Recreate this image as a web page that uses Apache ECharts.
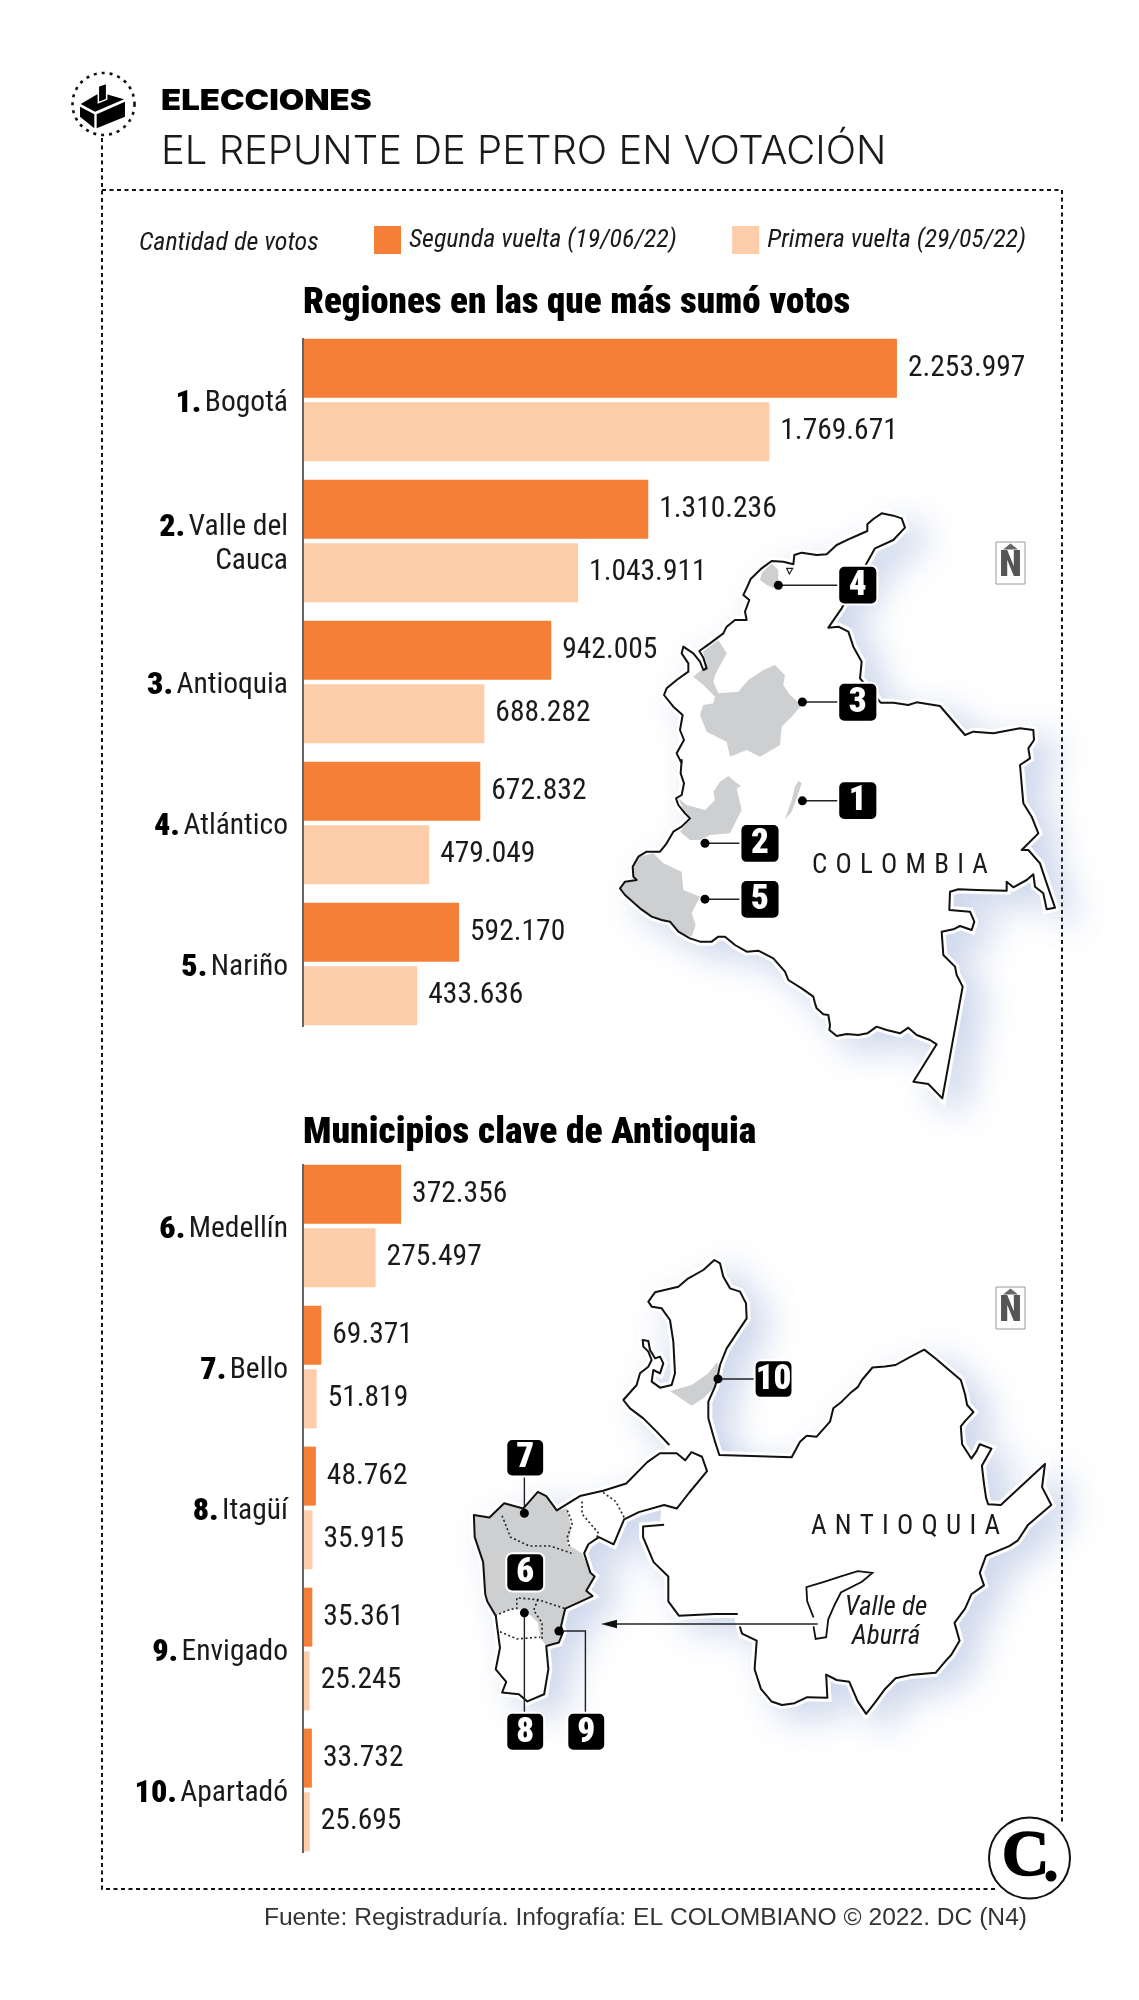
<!DOCTYPE html>
<html><head><meta charset="utf-8">
<style>html,body{margin:0;padding:0;background:#fff}#c{width:1139px;height:2000px}</style>
<script src="https://cdn.jsdelivr.net/npm/echarts@6/dist/echarts.min.js"></script>
</head><body><div id="c"></div>
<script>
const regionRanks = ['1.', '2.', '3.', '4.', '5.'];
const regionNames = ['Bogotá', 'Valle del\nCauca', 'Antioquia', 'Atlántico', 'Nariño'];
const regionSecond = [2253997, 1310236, 942005, 672832, 592170];
const regionFirst = [1769671, 1043911, 688282, 479049, 433636];
const townRanks = ['6.', '7.', '8.', '9.', '10.'];
const townNames = ['Medellín', 'Bello', 'Itagüí', 'Envigado', 'Apartadó'];
const townSecond = [372356, 69371, 48762, 35361, 33732];
const townFirst = [275497, 51819, 35915, 25245, 25695];
const secondName = 'Segunda vuelta (19/06/22)';
const firstName = 'Primera vuelta (29/05/22)';

const ORANGE = '#F57F36', PEACH = '#FDCCA9', GRAY = '#CDCFD1', INK = '#1a1a1a';
const NARROW = '"Roboto Condensed"';
const chart = echarts.init(document.getElementById('c'), null, {renderer: 'canvas'});

function fmt(v) { return String(v).replace(/\B(?=(\d{3})+$)/g, '.'); }
function axisLabels(names, ranks) {
  return names.map((n, i) => {
    const parts = n.split('\n');
    return '{r|' + ranks[i] + '} ' + parts.map(p => '{t|' + p + '}').join('\n');
  });
}
function barSeries(name, data, color, idx) {
  return {
    type: 'bar', name, data, xAxisIndex: idx, yAxisIndex: idx,
    barWidth: 59, barGap: '8%',
    itemStyle: {color},
    animation: false,
    label: {show: true, position: 'right', distance: 11, color: INK,
      fontFamily: NARROW, fontSize: 29.5, formatter: p => fmt(p.value)}
  };
}
function yAxis(idx, labels) {
  return {
    type: 'category', gridIndex: idx, inverse: true, data: labels,
    axisLine: {show: false}, axisTick: {show: false},
    axisLabel: {margin: 15, align: 'right', color: INK, lineHeight: 34, padding: [7, 0, 0, 0],
      rich: {
        r: {fontFamily: NARROW, fontWeight: 900, fontSize: 32, color: '#000', lineHeight: 34},
        t: {fontFamily: NARROW, fontSize: 29.5, color: INK, lineHeight: 34}
      }}
  };
}
function xAxis(idx) {
  return {type: 'value', gridIndex: idx, min: 0, max: 2400000, show: false};
}

/* ---------- decorative maps ---------- */
const gfx = [];
const id = p => p;
const antT = p => [420 + p[0] / 2.376, 1230 + p[1] / 2.8];
const pairs = (a, t) => { const o = []; for (let i = 0; i < a.length; i += 2) o.push(t([a[i], a[i + 1]])); return o; };
const crop = (x0, y0, a) => { const o = []; for (let i = 0; i < a.length; i += 2) o.push(x0 + a[i] / 3, y0 + a[i + 1] / 3); return o; };
function poly(a, t, style, z) { gfx.push({type: 'polygon', silent: true, z: z || 10, shape: {points: pairs(a, t)}, style}); }
function pline(a, t, style, z) { gfx.push({type: 'polyline', silent: true, z: z || 12, shape: {points: pairs(a, t)}, style: Object.assign({fill: null}, style)}); }
function shadowed(a, t) {
  poly(a, t, {fill: '#fff', stroke: '#fff', lineWidth: 6, shadowColor: 'rgba(140,165,212,.42)', shadowBlur: 34, shadowOffsetX: 18, shadowOffsetY: 12}, 5);
  poly(a, t, {fill: '#fff', stroke: '#fff', lineWidth: 8}, 6);
}
function dot(p, t) { const q = t(p); gfx.push({type: 'circle', silent: true, z: 20, shape: {cx: q[0], cy: q[1], r: 4.5}, style: {fill: '#000'}}); }
function line(a, t) { pline(a, t, {stroke: '#222', lineWidth: 1.4}, 19); }
function box(x0, y0, x1, y1, txt, t) {
  const a = t([x0, y0]), b = t([x1, y1]);
  gfx.push({type: 'rect', silent: true, z: 22, shape: {x: a[0], y: a[1], width: b[0] - a[0], height: b[1] - a[1], r: 6}, style: {fill: '#000', stroke: '#fff', lineWidth: 2}});
  gfx.push({type: 'text', silent: true, z: 23, style: {text: txt, x: (a[0] + b[0]) / 2, y: (a[1] + b[1]) / 2 + 1, textAlign: 'center', textVerticalAlign: 'middle', fill: '#fff', font: '900 35px ' + NARROW}});
}
function north(x, y) {
  gfx.push({type: 'rect', silent: true, z: 15, shape: {x: x, y: y, width: 29, height: 42}, style: {fill: '#fff', stroke: '#9a9a9a', lineWidth: 1}});
  gfx.push({type: 'polygon', silent: true, z: 16, shape: {points: [[x + 7, y + 7.5], [x + 14.5, y + 1.5], [x + 22, y + 7.5]]}, style: {fill: '#666'}});
  gfx.push({type: 'text', silent: true, z: 16, style: {text: 'N', x: x + 14.5, y: y + 25, textAlign: 'center', textVerticalAlign: 'middle', fill: '#555', font: '900 37px ' + NARROW}});
}

const colombiaOutline = [].concat(
  crop(660, 505, [735,68,725,40,700,32,665,25,640,42,622,58,622,78,595,90,565,103,530,120,500,148,470,150,425,143,403,150,400,178,370,170,335,168,305,190,272,222,262,245,250,270,268,285,255,320,260,345,225,345,200,365,190,385,150,415,118,438,130,458,140,490,130,495,120,470,100,445,70,425,65,445,85,475,85,500,50,525,20,550,12,570,40,605,68,630,60,675,72,705,50,745,65,775]),
  crop(610, 760, [215,0,212,40,222,70,215,105,198,115,205,135,225,160,240,175,215,200,190,215,170,250,150,275,110,275,85,290,68,320,70,350,80,360,45,365,30,385,45,405,90,445,125,470,155,480,180,485,205,515,240,535,270,545,305,545,325,530,345,530,375,555,410,575,445,572,490,595,525,635,535,660,575,685,610,710]),
  crop(780, 880, [105,370,110,385,130,403,145,405,150,435,148,450,170,468,200,462,235,465,262,460,290,440,320,450,360,460,385,443,410,465,450,480,470,493,400,605,445,612,487,655,548,320,530,285,525,260,490,225,485,155,520,148,540,138,575,150,583,125,570,95,508,90,510,35]),
  crop(860, 680, [295,628,350,630,440,632,440,605,460,622,500,600,520,583,525,620,550,640,560,688,585,683,560,610,540,550,505,510,485,510,535,460,515,410,490,370,480,255,510,235,505,205,522,180,520,150,480,145,400,160,340,155,315,165,240,78,170,67,145,75,100,68,62,68]),
  crop(660, 505, [600,520,605,470,580,425,565,380,535,365,505,368,545,310,620,175,645,130,700,105])
);
shadowed(colombiaOutline, id);
[
  crop(660, 505, [175,405,200,445,165,510,160,530,175,565,235,560,265,525,310,495,345,480,375,510,370,540,390,570,425,600,395,635,365,665,360,720,300,755,260,735,210,755,200,710,140,680,120,630,130,600,160,595,165,575,130,540,100,515,130,490,140,475,128,440]),
  crop(660, 505, [305,205,335,175,355,195,355,225,340,250,320,240,300,225]),
  crop(610, 760, [565,62,575,70,560,115,545,155,525,178,545,120,555,80]),
  crop(610, 760, [355,48,375,65,393,78,380,85,395,150,360,220,300,225,270,240,240,240,210,215,240,175,225,160,205,115,230,135,285,150,315,120,310,95,330,65]),
  crop(610, 760, [130,280,160,310,215,335,220,390,270,410,245,460,257,495,245,530,205,515,180,485,155,480,125,470,90,445,45,405,30,385,45,365,80,360,70,350,68,320,85,290,110,285])
].forEach(a => poly(a, id, {fill: GRAY}, 8));
poly(colombiaOutline, id, {fill: null, stroke: '#111', lineWidth: 2, lineJoin: 'round'}, 12);
poly(crop(660, 505, [380,190,398,190,388,207]), id, {fill: '#fff', stroke: '#222', lineWidth: 1.2}, 13);
const colT = p => [500 + p[0] / 2.454, 480 + p[1] / 2.45];
line([683,258,830,258], colT); dot([683,258], colT); box(830,210,926,305,'4',colT);
line([742,544,830,544], colT); dot([742,544], colT); box(830,497,926,592,'3',colT);
line([742,786,830,786], colT); dot([742,786], colT); box(830,738,926,833,'1',colT);
line([503,890,590,890], colT); dot([503,890], colT); box(590,843,686,938,'2',colT);
line([503,1027,590,1027], colT); dot([503,1027], colT); box(590,980,686,1075,'5',colT);
north(996, 542);
gfx.push({type: 'text', silent: true, z: 20, style: {text: 'C\u2004O\u2004L\u2004O\u2004M\u2004B\u2004I\u2004A', x: 812, y: 866, textAlign: 'left', textVerticalAlign: 'middle', fill: INK, font: '27px ' + NARROW}});

const antNorth = crop(620, 1245, [148,600,110,560,70,520,30,490,10,465,50,420,60,385,85,365,95,345,85,320,70,305,68,285,85,288,90,315,105,340,120,335,130,355,120,385,100,375,95,410,120,428,155,420,165,385,160,290,150,225,125,190,95,185,85,170,105,142,175,125,205,100,250,75,283,45,300,55,310,95,330,130,360,140,378,175,380,220,350,265,320,310,300,360,292,400,285,425,265,470,265,520,285,590,298,630,515,637,540,590,560,572,590,575,630,530,640,490,665,470,690,445]);
const antEast = pairs([1040,440,1050,420,1075,385,1105,382,1130,378,1165,355,1198,335,1225,360,1250,385,1285,420,1295,460,1300,490,1315,510,1295,535,1285,550,1288,600,1310,640,1322,620,1330,600,1358,612,1335,660,1340,710,1345,750,1350,768,1380,770,1485,655,1478,720,1500,770,1470,800,1445,825,1420,870,1400,885,1345,912,1330,960,1340,995,1310,1020,1295,1060,1270,1100,1282,1150,1262,1190,1250,1205,1225,1240,1170,1245,1130,1255,1105,1285,1080,1325,1060,1355,1040,1320,1020,1265,990,1260,965,1245,968,1310,920,1308,890,1325,860,1330,835,1320,810,1285,795,1230,800,1150,765,1130,760,1110], antT).flat();
const antMain = antNorth.concat(antEast);
const antMain2 = pairs([755,1075,700,1075,615,1080,590,1040,590,970,555,930,530,860,530,830,580,825], antT).flat();
const antValley = [128,798,165,805,200,765,245,780,280,733,300,745,325,785,380,745,435,730,490,710,540,650,570,625,610,625,630,645,645,622,670,635,682,675,640,735,610,780,580,770,520,790,485,810,460,880,425,860,400,880,390,905,405,960,415,970,395,1010,410,1025,345,1060,335,1110,340,1125,330,1155,300,1165,305,1230,295,1300,255,1320,235,1300,195,1295,205,1265,180,1230,190,1170,180,1080,160,1040,155,1020,150,930,130,860];
shadowed(antMain.concat(antMain2), id);
shadowed(antValley, antT);
poly([128,798,165,805,200,765,245,780,280,733,300,745,325,785,350,780,360,840,350,880,385,905,405,960,415,970,395,1010,410,1025,345,1060,335,1110,340,1125,330,1155,300,1165,285,1140,280,1100,250,1065,220,1060,178,1080,160,1040,155,1020,150,930,130,860], antT, {fill: GRAY}, 8);
poly(crop(620, 1245, [292,350,300,400,285,425,250,460,215,482,150,438,215,420,265,385]), id, {fill: GRAY}, 8);
pline(antMain, id, {stroke: '#111', lineWidth: 2, lineJoin: 'round'});
pline(antMain2, id, {stroke: '#111', lineWidth: 2, lineJoin: 'round'});
poly(antValley, antT, {fill: null, stroke: '#111', lineWidth: 2, lineJoin: 'round'}, 12);
[
  [195,800,215,860,260,885,310,885,360,905],
  [350,785,362,820,350,860,355,885],
  [385,760,385,795,425,850,420,860],
  [435,735,465,760,485,805],
  [178,1080,215,1062,230,1060,230,1030,280,1035,345,1060],
  [280,1035,270,1065,290,1100,290,1145],
  [190,1125,230,1145,285,1140]
].forEach(a => pline(a, antT, {stroke: '#222', lineWidth: 1.6, lineDash: [2, 2.5]}, 13));
pline([935,1085,920,1040,918,1000,960,985,1000,970,1040,955,1075,960,1050,985,1000,1015,985,1050,970,1090,965,1140,940,1145,935,1110], antT, {stroke: '#111', lineWidth: 1.8});
line([708,417,795,417], antT); dot([708,417], antT); box(795,365,885,470,'10',antT);
line([248,793,248,690], antT); dot([248,793], antT); box(205,585,295,690,'7',antT);
box(205,905,295,1012,'6',antT);
line([248,1072,248,1352], antT); dot([248,1072], antT); box(205,1352,295,1458,'8',antT);
line([330,1123,393,1123,393,1352], antT); dot([330,1123], antT); box(350,1352,440,1458,'9',antT);
line([945,1103,460,1103], antT);
poly([430,1103,468,1091,468,1115], antT, {fill: '#111'}, 20);
north(996, 1287);
gfx.push({type: 'text', silent: true, z: 20, style: {text: 'A\u2004N\u2004T\u2004I\u2004O\u2004Q\u2004U\u2004I\u2004A', x: 811, y: 1527, textAlign: 'left', textVerticalAlign: 'middle', fill: INK, font: '27px ' + NARROW}});
gfx.push({type: 'text', silent: true, z: 20, style: {text: 'Valle de\nAburrá', x: 886, y: 1623, textAlign: 'center', textVerticalAlign: 'middle', fill: INK, lineHeight: 29, font: 'italic 27px ' + NARROW}});

/* ---------- frame, axis rules, header icon, logo ---------- */
const dash = {stroke: '#111', lineWidth: 2, lineDash: [4, 3.5], fill: null};
gfx.push({type: 'polyline', silent: true, z: 2, shape: {points: [[102, 138], [102, 1889], [995, 1889]]}, style: dash});
gfx.push({type: 'polyline', silent: true, z: 2, shape: {points: [[102, 190], [1062, 190], [1062, 1825]]}, style: dash});
gfx.push({type: 'line', silent: true, z: 9, shape: {x1: 303, y1: 338, x2: 303, y2: 1027}, style: {stroke: '#666', lineWidth: 2}});
gfx.push({type: 'line', silent: true, z: 9, shape: {x1: 303, y1: 1164, x2: 303, y2: 1853}, style: {stroke: '#666', lineWidth: 2}});
gfx.push({type: 'circle', silent: true, z: 2, shape: {cx: 103.5, cy: 104, r: 31}, style: {fill: '#fff', stroke: '#111', lineWidth: 2.6, lineDash: [3, 5]}});
const icoT = p => [60 + p[0] / 3, 60 + p[1] / 3];
poly([60,140,103,163,103,205,60,170], icoT, {fill: '#000'}, 5);
poly([110,163,195,125,195,170,110,205], icoT, {fill: '#000'}, 5);
poly([62,132,112,103,140,103,192,118,105,155], icoT, {fill: '#000'}, 5);
poly([115,78,140,70,140,118,115,128], icoT, {fill: '#000', stroke: '#fff', lineWidth: 1.5}, 6);
gfx.push({type: 'circle', silent: true, z: 30, shape: {cx: 1029.5, cy: 1858, r: 40.5}, style: {fill: '#fff', stroke: '#111', lineWidth: 2}});
gfx.push({type: 'text', silent: true, z: 31, style: {text: 'C', x: 1025.5, y: 1858, textAlign: 'center', textVerticalAlign: 'middle', fill: '#000', stroke: '#000', lineWidth: 1.5, font: 'bold 66px "Liberation Serif"'}});
gfx.push({type: 'circle', silent: true, z: 31, shape: {cx: 1051, cy: 1876, r: 5.5}, style: {fill: '#000'}});
gfx.push({type: 'text', silent: true, z: 20, style: {text: 'Cantidad de votos', x: 139, y: 243.5, textAlign: 'left', textVerticalAlign: 'middle', fill: INK, font: 'italic 26px ' + NARROW}});
gfx.push({type: 'text', silent: true, z: 20, x: 161, y: 101, scaleX: 1.135, style: {text: 'ELECCIONES', x: 0, y: 0, textAlign: 'left', textVerticalAlign: 'middle', fill: '#000', font: '900 29px Inter'}});

chart.setOption({
  animation: false,
  backgroundColor: '#fff',
  title: [
    {text: 'EL REPUNTE DE PETRO EN VOTACIÓN', left: 161, top: 132, padding: 0, textStyle: {fontFamily: 'Inter', fontWeight: 300, fontSize: 40, color: INK}},
    {text: 'Regiones en las que más sumó votos', left: 303, top: 285, padding: 0, textStyle: {fontFamily: NARROW, fontWeight: 900, fontSize: 37, color: '#000'}},
    {text: 'Municipios clave de Antioquia', left: 303, top: 1115, padding: 0, textStyle: {fontFamily: NARROW, fontWeight: 900, fontSize: 37.5, color: '#000'}},
    {text: 'Fuente: Registraduría. Infografía: EL COLOMBIANO © 2022. DC (N4)', right: 112, top: 1906, padding: 0, textStyle: {fontFamily: '"Liberation Sans"', fontWeight: 'normal', fontSize: 24.6, color: '#333'}}
  ],
  legend: {
    left: 374, top: 226, padding: 0, itemWidth: 27, itemHeight: 28, itemGap: 55.5,
    icon: 'rect', selectedMode: false,
    data: [secondName, firstName],
    textStyle: {fontFamily: NARROW, fontStyle: 'italic', fontSize: 26, color: INK, padding: [5, 0, 0, 3]}
  },
  grid: [
    {left: 303, top: 329.5, width: 632.4, height: 705},
    {left: 303, top: 1155.5, width: 632.4, height: 705}
  ],
  xAxis: [xAxis(0), xAxis(1)],
  yAxis: [yAxis(0, axisLabels(regionNames, regionRanks)), yAxis(1, axisLabels(townNames, townRanks))],
  series: [
    barSeries(secondName, regionSecond, ORANGE, 0),
    barSeries(firstName, regionFirst, PEACH, 0),
    barSeries(secondName, townSecond, ORANGE, 1),
    barSeries(firstName, townFirst, PEACH, 1)
  ],
  graphic: {elements: gfx}
});
</script></body></html>
